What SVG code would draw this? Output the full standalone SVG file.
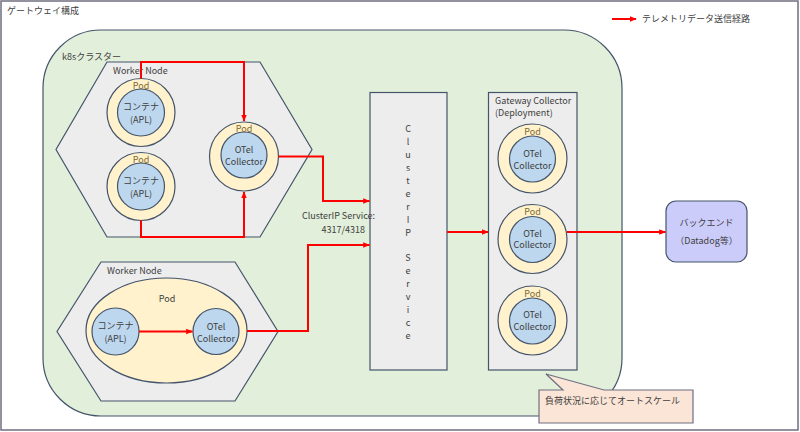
<svg xmlns="http://www.w3.org/2000/svg" width="800" height="432" viewBox="0 0 800 432">
<defs>
<style>
text{font-family:"Noto Sans CJK JP","Liberation Sans",sans-serif;font-size:9px;fill:#404040}
.c{text-anchor:middle}
.pod{fill:#7f6a30}
.shape{stroke:#44546a;stroke-width:1.2}
.hex{fill:#ededed}
.ring{fill:#fff2cc}
.inner{fill:#bdd7ee}
.conn{fill:none;stroke:#f00;stroke-width:2}
</style>
<marker id="arr" viewBox="0 0 10 10" refX="9" refY="5" markerWidth="7" markerHeight="7" orient="auto" markerUnits="userSpaceOnUse">
<path d="M0,1 L10,5 L0,9 z" fill="#f00"/>
</marker>
</defs>
<rect x="1" y="1" width="797" height="429" fill="#fff" stroke="#6f6f80" stroke-width="1.5"/>
<text x="7" y="14">ゲートウェイ構成</text>

<g id="legend">
<path class="conn" d="M612,19 H636" marker-end="url(#arr)"/>
<text x="642" y="22">テレメトリデータ送信経路</text>
</g>

<g id="cluster">
<rect class="shape" x="43" y="30" width="579" height="386" rx="58" fill="#e2efda"/>
<text x="62" y="60">k8sクラスター</text>
</g>

<g id="worker1">
<polygon class="shape hex" points="107,62 260,62 312,149.5 260,237 107,237 56,149.5"/>
<text x="113" y="74">Worker Node</text>
</g>
<g id="pod-apl1">
<circle class="shape ring" cx="141" cy="112.5" r="34"/>
<circle class="shape inner" cx="141" cy="112.5" r="23.5"/>
<text class="c pod" x="141" y="88.5">Pod</text>
<text class="c" x="141" y="110">コンテナ</text>
<text class="c" x="141" y="122.5">(APL)</text>
</g>
<g id="pod-apl2">
<circle class="shape ring" cx="141" cy="186.5" r="34"/>
<circle class="shape inner" cx="141" cy="186.5" r="23.5"/>
<text class="c pod" x="141" y="162.5">Pod</text>
<text class="c" x="141" y="184">コンテナ</text>
<text class="c" x="141" y="196.5">(APL)</text>
</g>
<g id="pod-otel1">
<circle class="shape ring" cx="244" cy="156.5" r="34.5"/>
<circle class="shape inner" cx="244" cy="155" r="23"/>
<text class="c pod" x="244" y="131.5">Pod</text>
<text class="c" x="244" y="153">OTel</text>
<text class="c" x="244" y="165">Collector</text>
</g>

<g id="worker2">
<polygon class="shape hex" points="101,262 235,262 278,331.5 235,401 101,401 57,331.5"/>
<text x="107" y="274">Worker Node</text>
</g>
<g id="pod-w2">
<ellipse class="shape ring" cx="166.5" cy="330.5" rx="80.5" ry="52.5"/>
<text class="c" x="167" y="302">Pod</text>
</g>
<g id="apl-w2">
<circle class="shape inner" cx="115.5" cy="331.5" r="23.5"/>
<text class="c" x="115.5" y="329">コンテナ</text>
<text class="c" x="115.5" y="342">(APL)</text>
</g>
<g id="otel-w2">
<circle class="shape inner" cx="216" cy="331.5" r="23"/>
<text class="c" x="216" y="330">OTel</text>
<text class="c" x="216" y="341.5">Collector</text>
</g>

<g id="clusterip">
<rect class="shape hex" x="370" y="92.5" width="77" height="277.5"/>
<text class="c" x="408" y="132">
<tspan x="408">C</tspan><tspan x="408" dy="12.94">l</tspan><tspan x="408" dy="12.94">u</tspan><tspan x="408" dy="12.94">s</tspan><tspan x="408" dy="12.94">t</tspan><tspan x="408" dy="12.94">e</tspan><tspan x="408" dy="12.94">r</tspan><tspan x="408" dy="12.94">I</tspan><tspan x="408" dy="12.94">P</tspan><tspan x="408" dy="25.88">S</tspan><tspan x="408" dy="12.94">e</tspan><tspan x="408" dy="12.94">r</tspan><tspan x="408" dy="12.94">v</tspan><tspan x="408" dy="12.94">i</tspan><tspan x="408" dy="12.94">c</tspan><tspan x="408" dy="12.94">e</tspan>
</text>
</g>
<text x="302" y="219">ClusterIP Service:</text>
<text x="365" y="233" text-anchor="end">4317/4318</text>

<g id="gateway">
<rect class="shape hex" x="488.5" y="92.5" width="88.5" height="277.5"/>
<text x="495" y="104">Gateway Collector</text>
<text x="495" y="116">(Deployment)</text>
</g>
<g id="gw-pod1">
<circle class="shape ring" cx="532.5" cy="158.5" r="34.5"/>
<circle class="shape inner" cx="532.5" cy="159" r="23"/>
<text class="c pod" x="532.5" y="134.5">Pod</text>
<text class="c" x="532.5" y="157">OTel</text>
<text class="c" x="532.5" y="168.5">Collector</text>
</g>
<g id="gw-pod2">
<circle class="shape ring" cx="532.5" cy="239" r="34.5"/>
<circle class="shape inner" cx="532.5" cy="239.5" r="23"/>
<text class="c pod" x="532.5" y="215">Pod</text>
<text class="c" x="532.5" y="236.5">OTel</text>
<text class="c" x="532.5" y="248">Collector</text>
</g>
<g id="gw-pod3">
<circle class="shape ring" cx="532.5" cy="320.5" r="34.5"/>
<circle class="shape inner" cx="532.5" cy="321" r="23"/>
<text class="c pod" x="532.5" y="296.5">Pod</text>
<text class="c" x="532.5" y="318">OTel</text>
<text class="c" x="532.5" y="329.5">Collector</text>
</g>

<g id="backend">
<rect class="shape" x="666" y="201" width="81" height="61" rx="10" fill="#ccccfa"/>
<text class="c" x="706.5" y="226">バックエンド</text>
<text class="c" x="706.5" y="244">（Datadog等）</text>
</g>

<g id="callout">
<path d="M539,390 H563 L546,374 L604,390 H693 V423 H539 Z" fill="#fbe5d6" stroke="#6f6f80" stroke-width="1.2"/>
<text x="545" y="404">負荷状況に応じてオートスケール</text>
</g>

<g id="connectors">
<path class="conn" d="M141,78.5 V62 H244 V121" marker-end="url(#arr)"/>
<path class="conn" d="M141,220.5 V237 H244 V192" marker-end="url(#arr)"/>
<path class="conn" d="M278.5,156.5 H323 V201 H369.5" marker-end="url(#arr)"/>
<path class="conn" d="M247,331 H308 V245 H369.5" marker-end="url(#arr)"/>
<path class="conn" d="M139,331.5 H192.5" marker-end="url(#arr)"/>
<path class="conn" d="M447,232 H488" marker-end="url(#arr)"/>
<path class="conn" d="M567,232 H665.5" marker-end="url(#arr)"/>
</g>
</svg>
